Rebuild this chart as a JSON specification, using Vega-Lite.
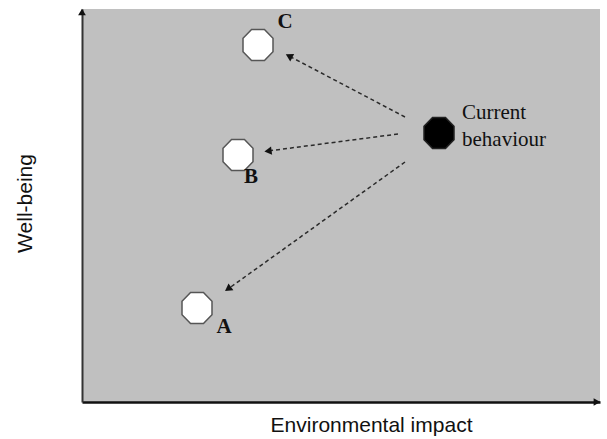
{
  "$schema": "https://vega.github.io/schema/vega-lite/v6.json",
  "width": 518,
  "height": 393,
  "autosize": {"type": "none"},
  "padding": {"left": 82, "top": 9, "right": 7, "bottom": 37},
  "background": "white",
  "config": {"view": {"fill": "#c0c0c0", "stroke": null}},
  "datasets": {
    "points": [
      {"name": "A", "x": 115, "y": 94, "kind": "option"},
      {"name": "B", "x": 156, "y": 247, "kind": "option"},
      {"name": "C", "x": 176, "y": 357, "kind": "option"},
      {"name": "Current behaviour", "x": 357, "y": 269, "kind": "current"}
    ],
    "arrows": [
      {"target": "C", "x": 323, "y": 285, "x2": 207, "y2": 346, "angle": 297.7},
      {"target": "B", "x": 316, "y": 268, "x2": 186, "y2": 251, "angle": 262.5},
      {"target": "A", "x": 323, "y": 240, "x2": 146, "y2": 113, "angle": 234.3}
    ],
    "letters": [
      {"text": "A", "x": 142, "y": 75},
      {"text": "B", "x": 169, "y": 225},
      {"text": "C", "x": 203, "y": 380}
    ],
    "current": [
      {"text": "Current", "x": 380, "y": 289},
      {"text": "behaviour", "x": 380, "y": 262}
    ],
    "axisheads": [
      {"axis": "y", "x": 0, "y": 390, "angle": 0},
      {"axis": "x", "x": 515, "y": 0, "angle": 90}
    ]
  },
  "layer": [
    {
      "data": {"name": "arrows"},
      "mark": {"type": "rule", "stroke": "#2a2a2a", "strokeWidth": 1.5, "strokeDash": [4, 3]},
      "encoding": {
        "x": {
          "field": "x", "type": "quantitative",
          "scale": {"domain": [0, 518], "nice": false, "zero": false},
          "axis": {"title": "Environmental impact", "domain": true, "domainColor": "#111111", "domainWidth": 2.5, "ticks": false, "labels": false, "grid": false, "titleFont": "Liberation Sans", "titleFontSize": 21, "titleFontWeight": "normal", "titleColor": "#111111", "titleX": 289, "titleY": 23, "titleBaseline": "middle", "titleAlign": "center"}
        },
        "y": {
          "field": "y", "type": "quantitative",
          "scale": {"domain": [0, 393], "nice": false, "zero": false},
          "axis": {"title": "Well-being", "domain": true, "domainColor": "#333333", "domainWidth": 2, "ticks": false, "labels": false, "grid": false, "titleFont": "Liberation Sans", "titleFontSize": 21, "titleFontWeight": "normal", "titleColor": "#111111", "titleX": -57, "titleY": 194, "titleBaseline": "middle", "titleAlign": "center", "titleAngle": -90}
        },
        "x2": {"field": "x2"},
        "y2": {"field": "y2"}
      }
    },
    {
      "data": {"name": "arrows"},
      "mark": {"type": "point", "shape": "triangle-up", "filled": true, "color": "#111111", "size": 70, "opacity": 1},
      "encoding": {
        "x": {"field": "x2", "type": "quantitative"},
        "y": {"field": "y2", "type": "quantitative"},
        "angle": {"field": "angle", "type": "quantitative", "scale": null}
      }
    },
    {
      "data": {"name": "axisheads"},
      "mark": {"type": "point", "shape": "triangle-up", "filled": true, "color": "#111111", "size": 60, "opacity": 1},
      "encoding": {
        "x": {"field": "x", "type": "quantitative"},
        "y": {"field": "y", "type": "quantitative"},
        "angle": {"field": "angle", "type": "quantitative", "scale": null}
      }
    },
    {
      "data": {"name": "points"},
      "mark": {"type": "point", "shape": "M-0.43,-1.04L0.43,-1.04L1,-0.45L1,0.45L0.43,1.04L-0.43,1.04L-1,0.45L-1,-0.45Z", "filled": true, "size": 900, "opacity": 1, "strokeWidth": 1.5},
      "encoding": {
        "x": {"field": "x", "type": "quantitative"},
        "y": {"field": "y", "type": "quantitative"},
        "fill": {"field": "kind", "type": "nominal", "scale": {"domain": ["option", "current"], "range": ["#ffffff", "#000000"]}, "legend": null},
        "stroke": {"field": "kind", "type": "nominal", "scale": {"domain": ["option", "current"], "range": ["#555555", "#222222"]}, "legend": null}
      }
    },
    {
      "data": {"name": "letters"},
      "mark": {"type": "text", "font": "Liberation Serif", "fontSize": 21, "fontWeight": "bold", "color": "#111111", "align": "center", "baseline": "middle"},
      "encoding": {
        "x": {"field": "x", "type": "quantitative"},
        "y": {"field": "y", "type": "quantitative"},
        "text": {"field": "text"}
      }
    },
    {
      "data": {"name": "current"},
      "mark": {"type": "text", "font": "Liberation Serif", "fontSize": 21, "color": "#111111", "align": "left", "baseline": "middle"},
      "encoding": {
        "x": {"field": "x", "type": "quantitative"},
        "y": {"field": "y", "type": "quantitative"},
        "text": {"field": "text"}
      }
    }
  ]
}
